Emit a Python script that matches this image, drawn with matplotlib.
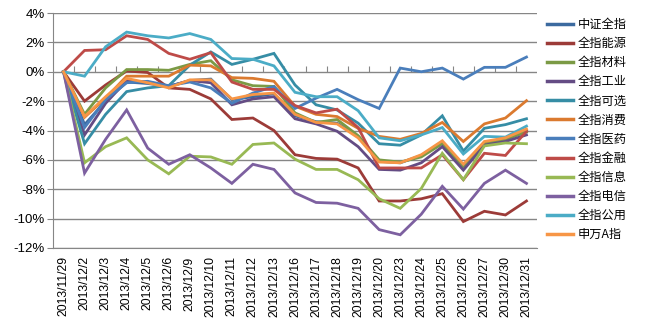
import matplotlib
matplotlib.use("Agg")
import matplotlib.pyplot as plt
from matplotlib.ticker import FuncFormatter

plt.rcParams['axes.unicode_minus'] = False

dates = ["2013/11/29", "2013/12/2", "2013/12/3", "2013/12/4", "2013/12/5", "2013/12/6",
         "2013/12/9", "2013/12/10", "2013/12/11", "2013/12/12", "2013/12/13", "2013/12/16",
         "2013/12/17", "2013/12/18", "2013/12/19", "2013/12/20", "2013/12/23", "2013/12/24",
         "2013/12/25", "2013/12/26", "2013/12/27", "2013/12/30", "2013/12/31"]

zz_all = [0, -3.6, -2.0, -0.7, -0.8, -1.0, -0.6, -0.5, -1.9, -1.7, -1.5, -3.0, -3.4, -3.5,
          -4.4, -6.1, -6.2, -5.7, -4.8, -6.4, -4.8, -4.6, -4.0]
energy = [0, -2.0, -0.9, 0.05, -0.05, -1.1, -1.2, -1.85, -3.25, -3.15, -4.0, -5.65, -5.9,
          -5.95, -6.55, -8.8, -8.8, -8.65, -8.3, -10.2, -9.5, -9.75, -8.8]
materials = [0, -2.9, -1.1, 0.15, 0.15, 0.1, 0.5, 0.75, -0.55, -0.95, -1.0, -2.8, -3.45,
             -3.25, -4.35, -6.0, -6.15, -5.8, -4.9, -6.6, -4.9, -4.6, -4.1]
industry = [0, -4.3, -2.15, -0.6, -0.7, -1.0, -0.6, -0.75, -2.25, -1.85, -1.7, -3.2, -3.55,
            -4.05, -5.1, -6.65, -6.7, -6.2, -5.1, -6.7, -5.0, -4.75, -4.3]
discretionary = [0, -4.9, -2.9, -1.35, -1.1, -0.95, 0.45, 1.35, 0.5, 0.85, 1.25, -0.9, -2.25,
                 -2.6, -3.5, -4.9, -5.0, -4.3, -3.0, -5.4, -3.85, -3.6, -3.2]
staples = [0, -3.1, -1.8, -0.3, -0.3, -0.3, 0.45, 0.4, -0.4, -0.45, -0.65, -2.35, -2.9,
           -3.05, -3.85, -4.4, -4.6, -4.2, -3.45, -4.75, -3.55, -3.15, -1.97]
health = [0, -3.8, -1.9, -0.75, -0.65, -0.95, -0.7, -1.1, -2.15, -1.45, -1.0, -2.5, -1.8,
          -1.2, -1.9, -2.5, 0.25, 0.0, 0.25, -0.5, 0.3, 0.3, 1.0]
finance = [0, 1.45, 1.5, 2.45, 2.2, 1.25, 0.85, 1.3, -0.7, -1.2, -1.2, -2.3, -2.8, -2.55,
           -3.8, -6.55, -6.55, -6.55, -5.65, -7.35, -5.55, -5.7, -4.05]
infotech = [0, -6.2, -5.1, -4.5, -6.0, -6.95, -5.75, -5.8, -6.3, -4.95, -4.85, -5.95, -6.65,
            -6.65, -7.35, -8.65, -9.3, -7.95, -5.55, -7.35, -5.05, -4.85, -4.9]
telecom = [0, -6.9, -4.6, -2.6, -5.2, -6.3, -5.65, -6.55, -7.6, -6.3, -6.65, -8.25, -8.9,
           -8.95, -9.3, -10.75, -11.1, -9.7, -7.8, -9.35, -7.6, -6.7, -7.6]
utilities = [0, -0.3, 1.7, 2.7, 2.45, 2.3, 2.6, 2.2, 0.9, 0.85, 0.4, -1.4, -1.7, -1.7,
             -2.65, -4.5, -4.7, -4.3, -3.8, -5.6, -4.4, -4.45, -3.7]
sw_a = [0, -3.05, -1.7, -0.45, -0.75, -1.1, -0.55, -0.55, -1.85, -1.55, -1.45, -2.9, -3.45,
        -3.55, -4.5, -6.15, -6.2, -5.65, -4.7, -6.3, -4.75, -4.5, -3.9]

names = ["中证全指", "全指能源", "全指材料", "全指工业", "全指可选", "全指消费",
         "全指医药", "全指金融", "全指信息", "全指电信", "全指公用", "申万A指"]
series = [zz_all, energy, materials, industry, discretionary, staples,
          health, finance, infotech, telecom, utilities, sw_a]
colors = ['#3C6A9F', '#9C3B38', '#7B9A45', '#644C84', '#368DA5', '#DB7A2F',
          '#4A7EBB', '#BE4B48', '#98B954', '#7D60A0', '#4BACC6', '#F79646']

yticks = [-12, -10, -8, -6, -4, -2, 0, 2, 4]

fig = plt.figure(figsize=(6.5, 3.28), dpi=100)
ax = fig.add_axes([53 / 650, 1 - 248 / 328, 484 / 650, 235 / 328])

x = list(range(len(dates)))
handles = []
for s, c, n in zip(series, colors, names):
    h, = ax.plot(x, s, color=c, lw=2.0, label=n, solid_joinstyle='miter')
    handles.append(h)

ax.set_xlim(-0.5, len(dates) - 0.5)
ax.set_ylim(yticks[0], yticks[-1])
ax.set_yticks(yticks)
ax.yaxis.set_major_formatter(FuncFormatter(lambda v, p: f"{v:.0f}%"))
ax.grid(axis='y', color='#868686', lw=1.0)
ax.set_axisbelow(True)

for sp in ['top', 'right']:
    ax.spines[sp].set_visible(False)
ax.spines['left'].set_color('#868686')
ax.spines['bottom'].set_color('#868686')
ax.tick_params(axis='y', length=4, color='#868686', labelsize=9.5, pad=2)
for lab in ax.get_yticklabels():
    lab.set_family('Liberation Sans')

ax.set_xticks(x)
ax.set_xticklabels(dates, rotation=90, fontsize=8.8, family='Liberation Sans')
ax.tick_params(axis='x', length=0, pad=6)

# category axis crossing at 0%
sec = ax.secondary_xaxis((0 - yticks[0]) / (yticks[-1] - yticks[0]))
sec.set_xticks([i + 0.5 for i in x[:-1]])
sec.tick_params(axis='x', direction='out', length=4, color='#868686', labelbottom=False,
                labeltop=False)
sec.set_xticklabels([])
sec.spines['bottom'].set_color('#868686')
sec.spines['top'].set_visible(False)

leg = fig.legend(handles, names, loc='upper left', bbox_to_anchor=(547 / 650, 1 - 18 / 328),
                 frameon=False, prop={'family': ['Noto Sans CJK SC', 'DejaVu Sans'], 'size': 8.8},
                 handlelength=2.1, handletextpad=0.4, labelspacing=0.5, borderaxespad=0,
                 borderpad=0)
for lh in leg.get_lines():
    lh.set_linewidth(2.5)

fig.savefig("out.png", dpi=100)
